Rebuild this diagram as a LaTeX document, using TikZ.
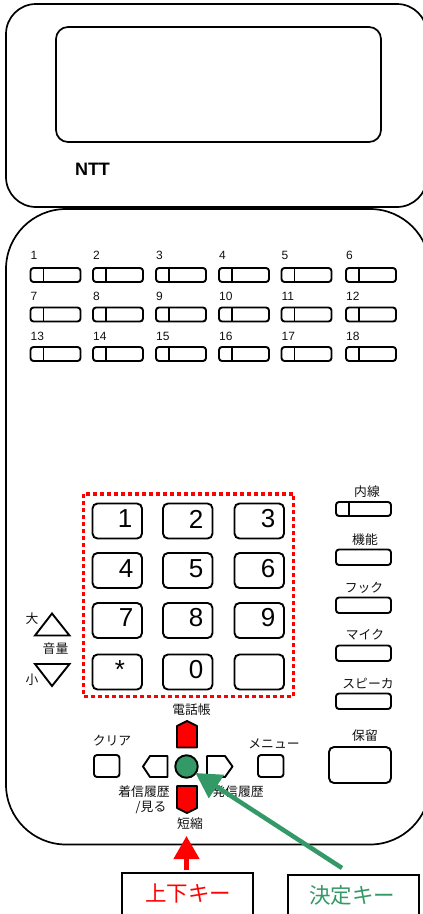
\documentclass[tikz,border=0pt]{standalone}
\usepackage{fontspec}
\setmainfont{Liberation Sans}
\newfontfamily\cjk{Noto Sans CJK JP}
\usetikzlibrary{arrows.meta}
\definecolor{kgreen}{HTML}{339966}
\definecolor{ink}{HTML}{111111}
\tikzset{
  x=1pt,y=-1pt,
  outl/.style={draw=black,line width=1.9pt,rounded corners=3pt},
  shell/.style={draw=black,line width=1.7pt},
  lbl/.style={font=\fontsize{12}{12}\selectfont,text=ink,inner sep=0pt},
  jlbl/.style={font=\cjk\fontsize{12.8}{13}\selectfont,text=ink,inner sep=0pt},
  digit/.style={font=\fontsize{26}{26}\selectfont,text=black,inner sep=0pt},
  captext/.style={font=\cjk\fontsize{21.5}{22}\selectfont,inner sep=0pt},
  hot/.style={draw=black,line width=1.9pt,fill=red,line join=round},
  pent/.style={draw=black,line width=1.9pt,fill=white,line join=round},
  tri/.style={draw=black,line width=1.9pt,line join=miter},
  capbox/.style={draw=black,line width=1.9pt,fill=white}
}
\newcommand{\linekey}[3]{% x, y, width
  \draw[outl] (#1,#2) rectangle ++(#3,14);
  \draw[black,line width=1.9pt] (#1+13,#2) -- ++(0,14);
}
\begin{document}
\begin{tikzpicture}
\useasboundingbox (0,0) rectangle (423,914);
\clip (0,0) rectangle (423,914);
% housing
\draw[shell,rounded corners=30pt] (6,4) rectangle (427,207);
\draw[shell,rounded corners=12pt] (56,27) rectangle (381,142);
\node[inner sep=0pt,font=\bfseries\fontsize{18}{18}\selectfont] (brand) at (92.5,169) {NTT};
\draw[shell,rounded corners=60pt] (6,209) rectangle (430,844.5);
% line keys
\foreach \r/\y/\ly/\base in {0/268/255.5/0,1/307.5/296/6,2/347/336.5/12}{
  \foreach \x/\c in {30.5/1,93/2,156/3,219/4,281.5/5,346/6}{
    \linekey{\x}{\y}{50}
    \pgfmathtruncatemacro{\n}{\c+\base}
    \node[lbl,anchor=west] (l\n) at (\x,\ly) {\n};
  }
}
% keypad
\foreach \t/\x/\y/\tx/\ty in {1/92.5/503.5/125/519,2/163/503.5/196/519,3/234.5/503.5/268/519,
  4/92.5/553/126/568.5,5/163/553/196/568.5,6/234.5/553/268/568.5,
  7/92.5/603/126/618,8/163/603/196/617.5,9/234.5/603/268/617.5,
  0/163/654.5/196/670}{
  \draw[outl,rounded corners=5pt] (\x,\y) rectangle ++(49.5,35);
  \node[digit] (k\t) at (\tx,\ty) {\t};
}
\draw[outl,rounded corners=5pt] (92.5,654.5) rectangle ++(49.5,35);
\node[digit] (kstar) at (120,670) {*};
\draw[outl,rounded corners=5pt] (234.5,654.5) rectangle ++(49.5,35);
\draw[red,line width=3.6pt,dash pattern=on 3.6pt off 3.4pt] (83.5,494) rectangle (293.5,696.5);
% right column
\linekey{336}{502}{55}
\foreach \y in {549.5,597.5,645.5,693.5}{\draw[outl] (336,\y) rectangle ++(55,15.5);}
\node[jlbl] (nai) at (367,491.5) {内線};
\node[jlbl] (kin) at (365,539.5) {機能};
\node[jlbl] (fuk) at (364,587.5) {フック};
\node[jlbl] (mai) at (365,635) {マイク};
\node[jlbl] (spk) at (368,683) {スピーカ};
\draw[outl,rounded corners=5pt] (329,747) rectangle (391,783);
\node[jlbl] (hor) at (365,736) {保留};
% volume
\draw[tri] (52,613.5) -- (35,635.5) -- (69.5,635.5) -- cycle;
\draw[tri] (35,664) -- (69.5,664) -- (52,686) -- cycle;
\node[jlbl] (dai) at (32,619) {大};
\node[jlbl] (ony) at (55.5,648.5) {音量};
\node[jlbl] (sho) at (32,679.5) {小};
% cursor cluster
\draw[hot] (177,726) -- (187,721) -- (197,726) -- (197,747.5) -- (177,747.5) -- cycle;
\draw[hot] (177,786) -- (197,786) -- (197,808) -- (187,813) -- (177,808) -- cycle;
\draw[pent] (167.5,756) -- (150,756) -- (143,766.5) -- (150,777) -- (167.5,777) -- cycle;
\draw[pent] (207,756) -- (225,756) -- (232.5,766.5) -- (225,777) -- (207,777) -- cycle;
\draw[outl] (94,755) rectangle (119.5,777);
\draw[outl] (258,755) rectangle (283.5,777);
\node[circle,draw=black,line width=1.9pt,fill=kgreen,minimum size=22.5pt,inner sep=0pt] (ok) at (186.5,766.5) {};
\node[jlbl] (den) at (191.5,709.5) {電話帳};
\node[jlbl] (clr) at (112,741) {クリア};
\node[jlbl] (men) at (274,744) {メニュー};
\node[jlbl] (cha) at (144,792) {着信履歴};
\node[jlbl] (mir) at (151,807) {/見る};
\node[jlbl] (has) at (238,792) {発信履歴};
\node[jlbl] (tan) at (190,823.5) {短縮};
% caption boxes
\node[capbox,minimum width=131pt,minimum height=50pt,inner sep=0pt] (ud) at (187.5,898) {};
\node[captext,text=red] (udt) at (188,893) {上下キー};
\node[capbox,minimum width=131pt,minimum height=50pt,inner sep=0pt] (dc) at (353.5,900) {};
\node[captext,text=kgreen] (dct) at (352,895) {決定キー};
% pointers
\coordinate (redtip) at (186.5,836);
\coordinate (redtail) at (186.5,870);
\coordinate (grntip) at (195.5,773);
\coordinate (grntail) at (342,868);
\draw[red,line width=4.5pt,-{Triangle[length=23pt,width=25pt]}] (redtail) -- (redtip);
\draw[kgreen,line width=4.5pt,-{Triangle[length=25pt,width=27pt]}] (grntail) -- (grntip);
\end{tikzpicture}
\end{document}
